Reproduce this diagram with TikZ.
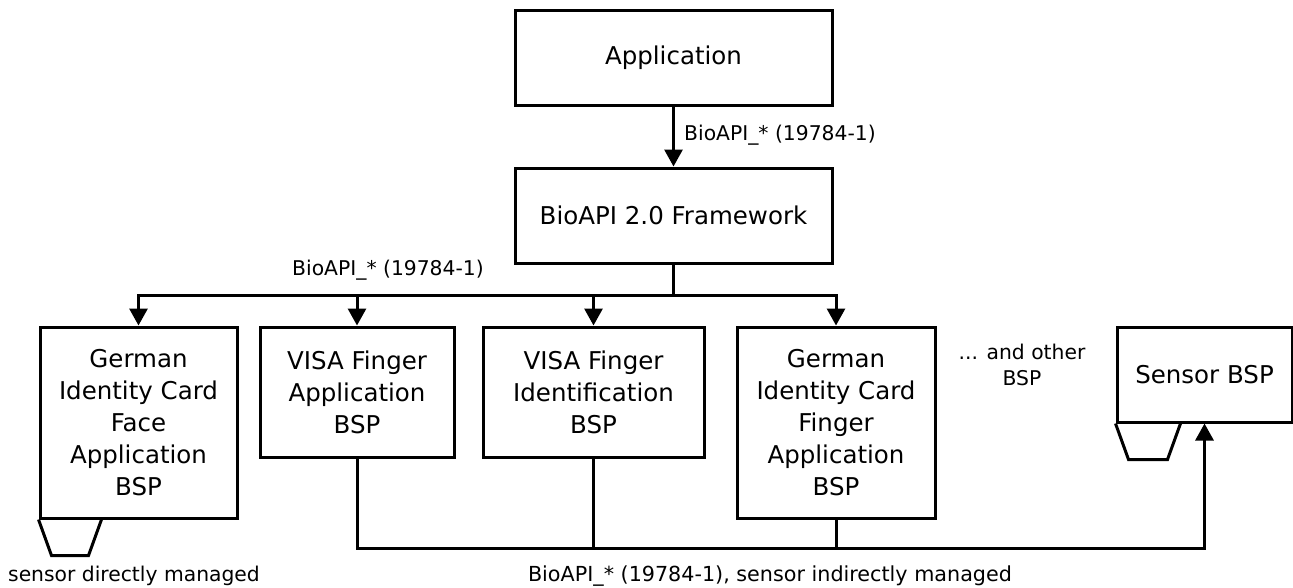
\documentclass[tikz,border=0pt]{standalone}
\usepackage{fontspec}
\setmainfont{DejaVu Sans}
\usetikzlibrary{arrows.meta}
\begin{document}
\begin{tikzpicture}[x=1pt,y=-1pt,
  box/.style={draw,line width=3pt,inner sep=0pt,align=center,
    font=\fontsize{24.5}{32}\selectfont},
  conn/.style={line width=3pt},
  arr/.style={conn,-{Triangle[width=18pt,length=17pt]}},
  lbl/.style={inner sep=0pt,align=center,font=\fontsize{20.3}{26}\selectfont},
  cup/.style={line width=3pt,line join=miter}]
\useasboundingbox (0,0) rectangle (1293,587);
\node[box,minimum width=317pt,minimum height=95pt] (app) at (673.5,57.5) {Application};
\node[box,minimum width=317pt,minimum height=95pt] (fw) at (673.5,215.5) {BioAPI 2.0 Framework};
\node[box,minimum width=197pt,minimum height=191pt] (b1) at (138.5,422.5) {German\\Identity Card\\Face\\Application\\BSP};
\node[box,minimum width=194pt,minimum height=130pt] (b2) at (357,392) {VISA Finger\\Application\\BSP};
\node[box,minimum width=221pt,minimum height=130pt] (b3) at (593.5,392) {VISA Finger\\Identification\\BSP};
\node[box,minimum width=198pt,minimum height=191pt] (b4) at (836,422.5) {German\\Identity Card\\Finger\\Application\\BSP};
\node[box,minimum width=175pt,minimum height=95pt] (sensor) at (1204.5,374.5) {Sensor BSP};
\node[lbl] (other) at (1022,365) {... and other\\BSP};
\node[lbl,anchor=west] (l1) at (684,135) {BioAPI\_* (19784-1)};
\node[lbl] (l2) at (388,270) {BioAPI\_* (19784-1)};
\node[lbl] (sd) at (134,576) {sensor directly managed};
\node[lbl,font=\fontsize{20.7}{26}\selectfont] (bi) at (770,576) {BioAPI\_* (19784-1), sensor indirectly managed};
\coordinate (busy) at (0,295);
\coordinate (boty) at (0,548);
\draw[arr] (app.south) -- (fw.north);
\draw[conn] (fw.south) -- (fw.south |- busy);
\draw[conn,line cap=rect] (b1.north |- busy) -- (b4.north |- busy);
\foreach \n in {b1,b2,b3,b4} \draw[arr] (\n.north |- busy) -- (\n.north);
\draw[conn] (b3.south) -- (b3.south |- boty);
\draw[conn] (b4.south) -- (b4.south |- boty);
\draw[arr] (b2.south) -- (b2.south |- boty) -- (sensor.south |- boty) -- (sensor.south);
\draw[cup] (b1.south west) -- ++(13,36) -- ++(37,0) -- ++(13,-36);
\draw[cup] (sensor.south west) -- ++(13,36) -- ++(39,0) -- ++(13,-36);
\end{tikzpicture}
\end{document}
